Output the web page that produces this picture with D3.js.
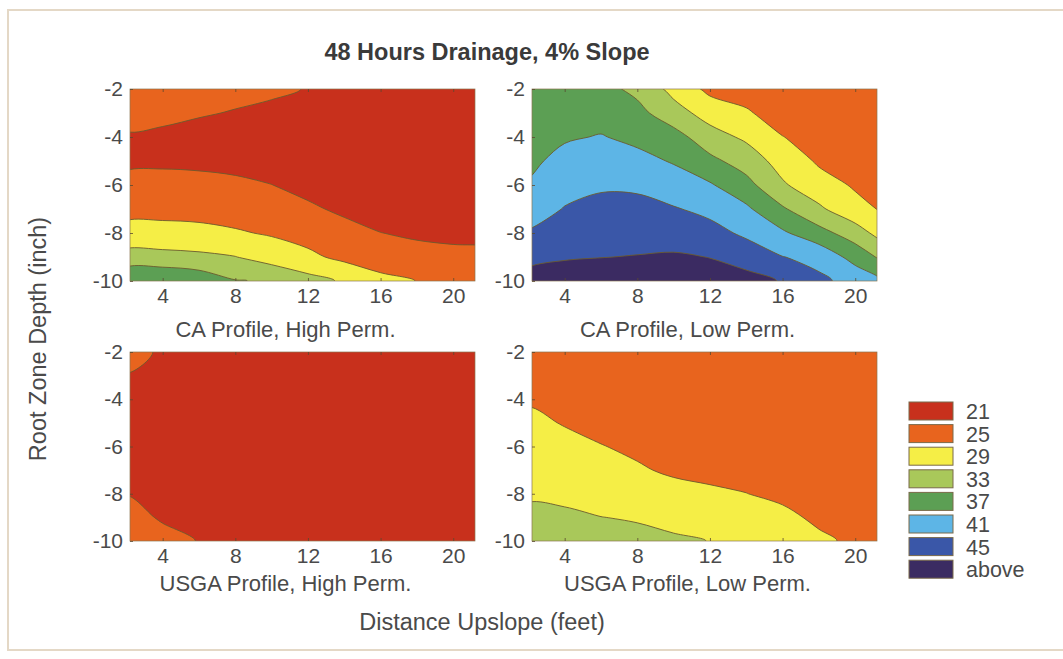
<!DOCTYPE html>
<html>
<head>
<meta charset="utf-8">
<script src="https://cdn.jsdelivr.net/npm/d3@7/dist/d3.min.js"></script>
<style>
  body { margin: 0; background: #fff; }
  svg { display: block; font-family: "Liberation Sans", Arial, sans-serif; }
</style>
</head>
<body>
<svg id="chart" width="1063" height="659"></svg>
<script>
// grid the values were read on: distance upslope (ft) x root zone depth (in)
const xFeet = [2, 4, 6, 8, 10, 12, 14, 16, 18, 20, 22];
const depths = [-2, -3, -4, -5, -6, -7, -8, -9, -10];
const xTicks = [4, 8, 12, 16, 20];
const yTicks = [-2, -4, -6, -8, -10];

const levels = [21, 25, 29, 33, 37, 41, 45];
const legendLabels = ["21", "25", "29", "33", "37", "41", "45", "above"];
const levelColors = ["#c8301c", "#e8641e", "#f5ee46", "#a9c85a", "#5c9f54", "#5db5e6", "#3a57a8", "#3b2b62"];

// one list per distance column, values going down the depths
const caHigh = [
  [23.5, 22.3, 20.6, 20.2, 22.2, 23.8, 26.3, 30.5, 36.5],
  [23.0, 21.9, 20.3, 20.3, 22.4, 23.8, 26.3, 30.2, 36.8],
  [22.6, 21.3, 19.8, 20.3, 22.0, 23.6, 26.1, 29.8, 35.6],
  [22.0, 20.8, 19.5, 19.8, 21.8, 23.3, 25.4, 29.1, 33.2],
  [21.4, 20.5, 19.2, 19.0, 21.05, 22.6, 24.6, 27.3, 32.6],
  [20.9, 19.8, 19.0, 18.8, 19.7, 21.7, 23.6, 25.8, 30.4],
  [20.5, 19.5, 18.8, 18.5, 18.9, 20.2, 22.5, 24.1, 28.5],
  [20.2, 19.3, 18.6, 18.2, 18.3, 19.3, 21.05, 23.3, 25.9],
  [20.0, 19.1, 18.4, 18.0, 18.0, 18.6, 20.4, 22.4, 24.95],
  [19.8, 19.0, 18.3, 17.9, 17.8, 18.3, 20.0, 22.1, 23.8],
  [19.7, 18.9, 18.2, 17.8, 17.7, 18.1, 19.8, 21.9, 23.4]
];
const caLow = [
  [34.5, 34.8, 35.3, 36.2, 37.3, 39.0, 41.35, 43.3, 47.3],
  [34.8, 35.4, 36.6, 38.1, 39.6, 41.2, 43.0, 44.7, 46.8],
  [34.3, 35.6, 37.2, 38.8, 40.3, 42.5, 43.7, 44.95, 46.5],
  [32.0, 34.2, 36.1, 38.1, 40.3, 42.2, 44.0, 45.1, 46.5],
  [27.8, 30.6, 34.6, 36.7, 38.8, 41.3, 43.8, 45.3, 46.2],
  [24.0, 27.4, 30.6, 34.0, 37.4, 40.0, 42.3, 44.95, 46.0],
  [23.2, 25.5, 28.3, 31.2, 34.3, 37.7, 40.3, 43.2, 46.5],
  [21.8, 23.0, 25.1, 27.4, 29.5, 33.5, 37.6, 41.1, 44.7],
  [21.5, 22.2, 23.3, 24.5, 26.5, 29.7, 34.4, 39.9, 41.7],
  [21.3, 21.8, 22.5, 23.4, 24.6, 26.1, 31.0, 35.5, 39.8],
  [21.2, 21.5, 22.0, 22.7, 23.6, 24.2, 26.0, 31.0, 36.0]
];
const usgaHigh = [
  [21.8, 20.9, 20.0, 19.6, 19.6, 19.9, 20.9, 22.0, 23.0],
  [20.7, 20.0, 19.5, 19.2, 19.2, 19.4, 19.9, 20.7, 21.9],
  [20.2, 19.7, 19.3, 19.0, 19.0, 19.1, 19.4, 19.9, 20.9],
  [19.8, 19.4, 19.0, 18.8, 18.8, 18.9, 19.1, 19.4, 19.9],
  [19.6, 19.2, 18.9, 18.7, 18.6, 18.7, 18.9, 19.1, 19.5],
  [19.5, 19.1, 18.8, 18.6, 18.5, 18.6, 18.7, 18.9, 19.2],
  [19.4, 19.0, 18.7, 18.5, 18.4, 18.5, 18.6, 18.8, 19.0],
  [19.3, 18.9, 18.6, 18.4, 18.3, 18.4, 18.5, 18.7, 18.9],
  [19.2, 18.9, 18.6, 18.4, 18.3, 18.3, 18.4, 18.6, 18.8],
  [19.2, 18.8, 18.5, 18.3, 18.2, 18.3, 18.4, 18.5, 18.7],
  [19.1, 18.8, 18.5, 18.3, 18.2, 18.2, 18.3, 18.5, 18.7]
];
const usgaLow = [
  [23.0, 23.7, 24.6, 25.8, 26.8, 27.6, 28.6, 29.7, 31.0],
  [22.8, 23.4, 24.0, 24.8, 26.0, 27.0, 28.0, 29.8, 30.8],
  [22.6, 23.1, 23.6, 24.2, 25.1, 26.3, 27.5, 29.05, 30.3],
  [22.4, 22.8, 23.3, 23.8, 24.5, 25.3, 26.9, 28.7, 30.0],
  [22.2, 22.5, 22.9, 23.3, 23.9, 24.6, 25.9, 27.4, 29.8],
  [22.0, 22.3, 22.6, 23.0, 23.5, 24.2, 25.5, 27.0, 28.9],
  [21.9, 22.1, 22.4, 22.8, 23.2, 23.8, 25.05, 26.3, 27.6],
  [21.8, 22.0, 22.2, 22.5, 22.9, 23.4, 24.2, 25.9, 26.8],
  [21.7, 21.9, 22.0, 22.2, 22.5, 22.9, 23.5, 24.3, 25.7],
  [21.6, 21.7, 21.6, 21.8, 22.0, 22.3, 22.8, 23.4, 24.3],
  [21.5, 21.4, 21.2, 21.4, 21.6, 21.8, 22.2, 22.7, 23.3]
];

const panels = [
  { title: "CA Profile, High Perm.", cols: caHigh, left: 130, top: 89, h: 192, labelY: 56 },
  { title: "CA Profile, Low Perm.", cols: caLow, left: 532, top: 89, h: 192, labelY: 56 },
  { title: "USGA Profile, High Perm.", cols: usgaHigh, left: 130, top: 352, h: 189, labelY: 50 },
  { title: "USGA Profile, Low Perm.", cols: usgaLow, left: 532, top: 352, h: 189, labelY: 50 }
];
const panelW = 345;
const textColor = "#4a4a4a";
const lineColor = "#6b5a2e";

const svg = d3.select("#chart");

// light frame round the figure
svg.append("rect")
  .attr("x", 8).attr("y", 10).attr("width", 1070).attr("height", 640)
  .attr("fill", "#fff").attr("stroke", "#e4d8c6").attr("stroke-width", 2);

const nx = xFeet.length, ny = depths.length;
// grid index -> data coordinates (d3.contours puts cell i at i + 0.5)
const gx = d3.scaleLinear().domain([0.5, nx - 0.5]).range([xFeet[0], xFeet[nx - 1]]);
const gy = d3.scaleLinear().domain([0.5, ny - 0.5]).range([depths[0], depths[ny - 1]]);

const smoothRing = d3.line().curve(d3.curveCatmullRomClosed.alpha(0.5));

panels.forEach((p, k) => {
  const x = d3.scaleLinear().domain([2.2, 21.2]).range([0, panelW]);
  const y = d3.scaleLinear().domain([-2, -10]).range([0, p.h]);

  const g = svg.append("g").attr("transform", `translate(${p.left},${p.top})`);

  g.append("clipPath").attr("id", "clip" + k)
    .append("rect").attr("width", panelW).attr("height", p.h);

  // flatten column lists into row-major grid
  const values = new Array(nx * ny);
  for (let i = 0; i < nx; i++)
    for (let j = 0; j < ny; j++)
      values[j * nx + i] = p.cols[i][j];

  const bands = d3.contours().size([nx, ny]).thresholds(levels)(values);

  // draw each ring as a smooth closed curve
  const bandPath = b => b.coordinates.map(poly => poly.map(ring => {
    const pts = ring.slice(0, -1).map(([cx, cy]) => [x(gx(cx)), y(gy(cy))]);
    return smoothRing(pts);
  }).join("")).join("");

  const plot = g.append("g").attr("clip-path", `url(#clip${k})`);
  plot.append("rect").attr("width", panelW).attr("height", p.h).attr("fill", levelColors[0]);
  plot.selectAll("path.band")
    .data(bands)
    .join("path")
    .attr("class", "band")
    .attr("d", bandPath)
    .attr("fill", (d, i) => levelColors[i + 1])
    .attr("stroke", lineColor)
    .attr("stroke-width", 0.9)
    .attr("stroke-linejoin", "round");

  g.append("rect").attr("width", panelW).attr("height", p.h)
    .attr("fill", "none").attr("stroke", "#8a7550").attr("stroke-width", 0.7);

  const fmt = d => String(d);
  const xAxis = g.append("g").attr("transform", `translate(0,${p.h})`)
    .call(d3.axisBottom(x).tickValues(xTicks).tickFormat(fmt).tickSizeInner(-3).tickSizeOuter(0).tickPadding(7));
  const yAxis = g.append("g")
    .call(d3.axisLeft(y).tickValues(yTicks).tickFormat(fmt).tickSizeInner(-3).tickSizeOuter(0).tickPadding(7));
  const topTicks = g.append("g")
    .call(d3.axisTop(x).tickValues(xTicks).tickFormat("").tickSizeInner(-3).tickSizeOuter(0));
  [xAxis, yAxis, topTicks].forEach(a => {
    a.select(".domain").remove();
    a.selectAll("line").attr("stroke", "#5a4a30").attr("stroke-width", 0.8);
    a.selectAll("text").attr("fill", textColor).style("font-size", "21px")
      .style("font-family", "Liberation Sans, Arial, sans-serif");
  });

  g.append("text")
    .attr("x", panelW / 2 - 17).attr("y", p.h + p.labelY)
    .attr("text-anchor", "middle")
    .attr("fill", textColor).style("font-size", "22px")
    .text(p.title);
});

svg.append("text")
  .attr("x", 487).attr("y", 60)
  .attr("text-anchor", "middle")
  .attr("fill", "#3a3a3a").style("font-size", "23.5px").style("font-weight", "bold")
  .text("48 Hours Drainage, 4% Slope");

svg.append("text")
  .attr("x", 482).attr("y", 630)
  .attr("text-anchor", "middle")
  .attr("fill", textColor).style("font-size", "23.5px")
  .text("Distance Upslope (feet)");

svg.append("text")
  .attr("transform", "translate(46,339) rotate(-90)")
  .attr("text-anchor", "middle")
  .attr("fill", textColor).style("font-size", "23.5px")
  .text("Root Zone Depth (inch)");

// legend
const legend = svg.append("g").attr("transform", "translate(909,402)");
const item = legend.selectAll("g")
  .data(legendLabels)
  .join("g")
  .attr("transform", (d, i) => `translate(0,${i * 22.6})`);
item.append("rect")
  .attr("width", 44).attr("height", 18)
  .attr("fill", (d, i) => levelColors[i])
  .attr("stroke", "#7a6a4a").attr("stroke-width", 1);
item.append("text")
  .attr("x", 57).attr("y", 17)
  .attr("fill", textColor).style("font-size", "21.5px")
  .text(d => d);
</script>
</body>
</html>
